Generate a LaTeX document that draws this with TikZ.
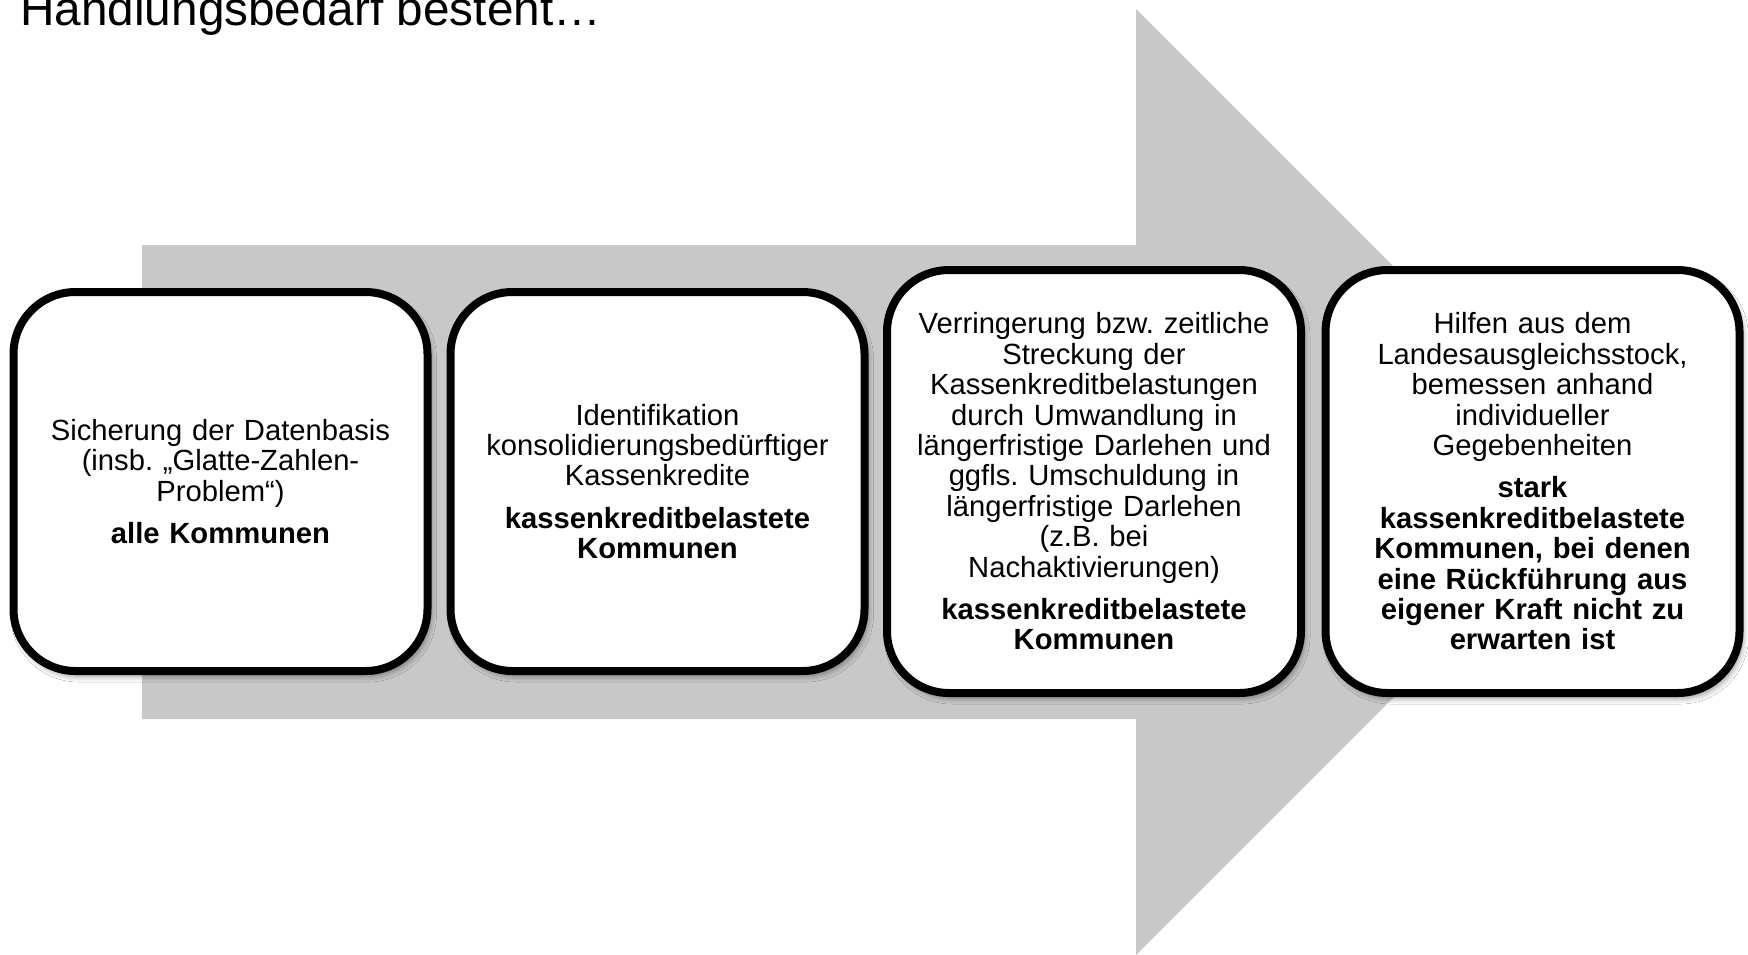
\documentclass[tikz,border=0pt]{standalone}
\usepackage{fontspec}
\setmainfont{Liberation Sans}
\usetikzlibrary{shadows.blur}
\frenchspacing
\definecolor{arrowgray}{RGB}{200,200,200}
\tikzset{
  stepbox/.style={draw=black, line width=4pt, fill=white, rounded corners=31pt,
    minimum width=207pt, align=center, text width=185pt, inner sep=0pt,
    font=\fontsize{14.6pt}{15.2pt}\selectfont,
    blur shadow={shadow xshift=1.5pt, shadow yshift=-2.5pt, shadow blur radius=3pt, shadow opacity=45}},
  shortbox/.style={stepbox, minimum height=189.5pt},
  tallbox/.style={stepbox, minimum height=211.5pt},
  titletext/.style={anchor=base west, inner sep=0pt, font=\fontsize{23.85pt}{28pt}\selectfont}
}
\begin{document}
\begin{tikzpicture}[x=0.5pt,y=-0.5pt]
\useasboundingbox (0,0) rectangle (1748,954);
\clip (0,0) rectangle (1748,954);
\fill[white] (0,0) rectangle (1748,954);
\node[titletext] (title) at (20,25) {Handlungsbedarf besteht…};
\fill[arrowgray] (142,245) -- (1136,245) -- (1136,9) -- (1609,482) -- (1136,955) -- (1136,719) -- (142,719) -- cycle;
\node[shortbox] (b1) at (220.5,481.5) {Sicherung der Datenbasis\\(insb. „Glatte-Zahlen-\\Problem“)\\[6pt]{\bfseries alle Kommunen}};
\node[shortbox] (b2) at (657.5,481.5) {Identifikation\\konsolidierungsbedürftiger\\Kassenkredite\\[6pt]{\bfseries kassenkreditbelastete\\Kommunen}};
\node[tallbox] (b3) at (1094,481.5) {Verringerung bzw. zeitliche\\Streckung der\\Kassenkreditbelastungen\\durch Umwandlung in\\längerfristige Darlehen und\\ggfls. Umschuldung in\\längerfristige Darlehen\\(z.B. bei\\Nachaktivierungen)\\[6pt]{\bfseries kassenkreditbelastete\\Kommunen}};
\node[tallbox] (b4) at (1532.5,481.5) {Hilfen aus dem\\Landesausgleichsstock,\\bemessen anhand\\individueller\\Gegebenheiten\\[6pt]{\bfseries stark\\kassenkreditbelastete\\Kommunen, bei denen\\eine Rückführung aus\\eigener Kraft nicht zu\\erwarten ist}};
\end{tikzpicture}
\end{document}
